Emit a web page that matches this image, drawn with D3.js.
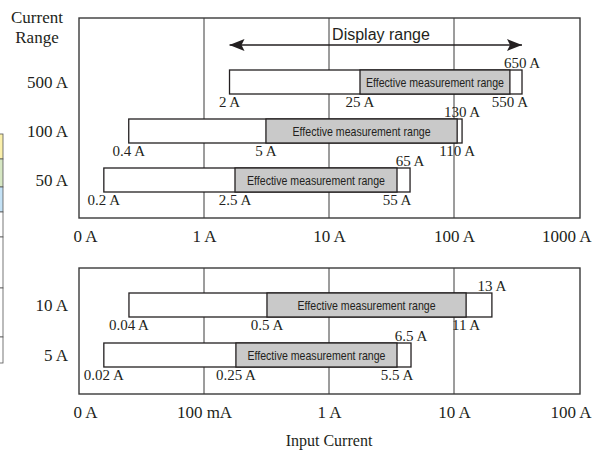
<!DOCTYPE html>
<html>
<head>
<meta charset="utf-8">
<script src="https://cdn.jsdelivr.net/npm/d3@7"></script>
<style>
  html, body { margin: 0; padding: 0; background: #fff; }
  svg { display: block; }
</style>
</head>
<body>
<svg id="chart" width="593" height="450"></svg>
<script>
// ---------- data (positions, in amperes) ----------
const topRanges = ["500 A", "100 A", "50 A"];
const topStart = [1.6, 0.25, 0.158];
const topEffStart = [17.7, 3.13, 1.77];
const topEffEnd = [280, 106, 35];
const topEnd = [350, 116, 44.5];
const topStartLabels = ["2 A", "0.4 A", "0.2 A"];
const topEffStartLabels = ["25 A", "5 A", "2.5 A"];
const topEffEndLabels = ["550 A", "110 A", "55 A"];
const topEndLabels = ["650 A", "130 A", "65 A"];
const topTickValues = [0.1, 1, 10, 100, 1000];
const topTickLabels = ["0 A", "1 A", "10 A", "100 A", "1000 A"];
const displayRange = [1.6, 350];
const displayRangeLabel = "Display range";

const botRanges = ["10 A", "5 A"];
const botStart = [0.0251, 0.0158];
const botEffStart = [0.319, 0.18];
const botEffEnd = [12.5, 3.5];
const botEnd = [20.1, 4.53];
const botStartLabels = ["0.04 A", "0.02 A"];
const botEffStartLabels = ["0.5 A", "0.25 A"];
const botEffEndLabels = ["11 A", "5.5 A"];
const botEndLabels = ["13 A", "6.5 A"];
const botTickValues = [0.01, 0.1, 1, 10, 100];
const botTickLabels = ["0 A", "100 mA", "1 A", "10 A", "100 A"];

const effLabel = "Effective measurement range";
const yTitle = ["Current", "Range"];
const xTitle = "Input Current";

// ---------- drawing ----------
const svg = d3.select("#chart");
const serif = "'Liberation Serif', 'Times New Roman', serif";
const sans = "'Liberation Sans', Arial, sans-serif";
const ink = "#231f20";
const frameCol = "#3a3a3a";
const grayFill = "#c9c9c9";

// left-edge fragment of a neighbouring table
const frag = svg.append("g");
const fragRows = [[134, 159, "#fbf0ab"], [159, 187, "#d6e7c3"], [187, 212, "#c4e2f6"],
                  [212, 237, "#fff"], [237, 288, "#fff"], [288, 337, "#fff"], [337, 363, "#fff"]];
fragRows.forEach(r => {
  frag.append("rect").attr("x", -2).attr("y", r[0]).attr("width", 5).attr("height", r[1] - r[0])
    .attr("fill", r[2]).attr("stroke", "#555").attr("stroke-width", 0.8);
});

function panel(cfg) {
  const x = d3.scaleLog().domain(cfg.domain).range([79, 579]);
  const y = d3.scalePoint().domain(cfg.ranges).range(cfg.yRange);
  const g = svg.append("g");
  const barH = 24;

  // grid lines
  g.selectAll("line.grid").data(cfg.ticks.slice(1, -1)).join("line")
    .attr("x1", d => x(d)).attr("x2", d => x(d))
    .attr("y1", cfg.top).attr("y2", cfg.bottom)
    .attr("stroke", frameCol).attr("stroke-width", 1);

  // frame
  g.append("rect").attr("x", 79).attr("y", cfg.top).attr("width", 501).attr("height", cfg.bottom - cfg.top)
    .attr("fill", "none").attr("stroke", frameCol).attr("stroke-width", 1.4);

  cfg.ranges.forEach((r, i) => {
    const cy = y(r);
    const y0 = cy - barH / 2, y1 = cy + barH / 2;
    g.append("rect").attr("x", x(cfg.start[i])).attr("y", y0)
      .attr("width", x(cfg.end[i]) - x(cfg.start[i])).attr("height", barH)
      .attr("fill", "#fff").attr("stroke", ink).attr("stroke-width", 1.3);
    g.append("rect").attr("x", x(cfg.effStart[i])).attr("y", y0)
      .attr("width", x(cfg.effEnd[i]) - x(cfg.effStart[i])).attr("height", barH)
      .attr("fill", grayFill).attr("stroke", ink).attr("stroke-width", 1.3);
    g.append("text")
      .attr("x", (x(cfg.effStart[i]) + x(cfg.effEnd[i])) / 2).attr("y", cy + 4.5)
      .attr("text-anchor", "middle").attr("font-family", sans).attr("font-size", 13)
      .attr("fill", ink).attr("textLength", 138).attr("lengthAdjust", "spacingAndGlyphs")
      .text(effLabel);

    const lab = (txt, xv, yy) => g.append("text").attr("x", xv).attr("y", yy)
      .attr("text-anchor", "middle").attr("font-family", serif).attr("font-size", 15)
      .attr("fill", ink).text(txt);
    lab(cfg.startLabels[i], x(cfg.start[i]), y1 + 13);
    lab(cfg.effStartLabels[i], x(cfg.effStart[i]), y1 + 13);
    lab(cfg.effEndLabels[i], x(cfg.effEnd[i]), y1 + 13);
    lab(cfg.endLabels[i], x(cfg.end[i]), y0 - 2);

    g.append("text").attr("x", 68).attr("y", cy + 6).attr("text-anchor", "end")
      .attr("font-family", serif).attr("font-size", 17).attr("fill", ink).text(r);
  });

  // axis
  const axis = d3.axisBottom(x).tickValues(cfg.ticks)
    .tickFormat((d, i) => cfg.tickLabels[i]).tickSize(0).tickPadding(0);
  const ag = svg.append("g").attr("transform", `translate(0,${cfg.bottom + 24})`).call(axis);
  ag.select(".domain").remove();
  const n = cfg.ticks.length;
  ag.selectAll("text").attr("dy", 0).attr("font-family", serif).attr("font-size", 17).attr("fill", ink)
    .attr("text-anchor", (d, i) => i === 0 ? "start" : (i === n - 1 ? "end" : "middle"))
    .attr("dx", (d, i) => i === 0 ? -6 : (i === n - 1 ? 12 : 0));
  return x;
}

const xTop = panel({
  domain: [topTickValues[0], topTickValues[topTickValues.length - 1]],
  ticks: topTickValues, tickLabels: topTickLabels,
  ranges: topRanges, yRange: [82, 180], top: 18, bottom: 218,
  start: topStart, effStart: topEffStart, effEnd: topEffEnd, end: topEnd,
  startLabels: topStartLabels, effStartLabels: topEffStartLabels,
  effEndLabels: topEffEndLabels, endLabels: topEndLabels
});

panel({
  domain: [botTickValues[0], botTickValues[botTickValues.length - 1]],
  ticks: botTickValues, tickLabels: botTickLabels,
  ranges: botRanges, yRange: [305, 355], top: 268, bottom: 394,
  start: botStart, effStart: botEffStart, effEnd: botEffEnd, end: botEnd,
  startLabels: botStartLabels, effStartLabels: botEffStartLabels,
  effEndLabels: botEffEndLabels, endLabels: botEndLabels
});

// display range arrow
const defs = svg.append("defs");
["s", "e"].forEach(k => {
  defs.append("marker").attr("id", "arr" + k).attr("viewBox", "0 0 15 12")
    .attr("refX", 15).attr("refY", 6).attr("markerWidth", 15).attr("markerHeight", 12)
    .attr("markerUnits", "userSpaceOnUse").attr("orient", "auto-start-reverse")
    .append("path").attr("d", "M0,0 L15,6 L0,12 L3,6 Z").attr("fill", ink);
});
svg.append("line")
  .attr("x1", xTop(displayRange[0])).attr("x2", xTop(displayRange[1]))
  .attr("y1", 45).attr("y2", 45).attr("stroke", ink).attr("stroke-width", 1.6)
  .attr("marker-start", "url(#arrs)").attr("marker-end", "url(#arre)");
svg.append("text").attr("x", 381).attr("y", 40).attr("text-anchor", "middle")
  .attr("font-family", sans).attr("font-size", 16).attr("fill", ink).text(displayRangeLabel);

// titles
svg.append("text").attr("x", 37).attr("y", 23).attr("text-anchor", "middle")
  .attr("font-family", serif).attr("font-size", 17).attr("fill", ink).text(yTitle[0]);
svg.append("text").attr("x", 37).attr("y", 43).attr("text-anchor", "middle")
  .attr("font-family", serif).attr("font-size", 17).attr("fill", ink).text(yTitle[1]);
svg.append("text").attr("x", 329).attr("y", 446).attr("text-anchor", "middle")
  .attr("font-family", serif).attr("font-size", 16).attr("fill", ink).text(xTitle);
</script>
</body>
</html>
